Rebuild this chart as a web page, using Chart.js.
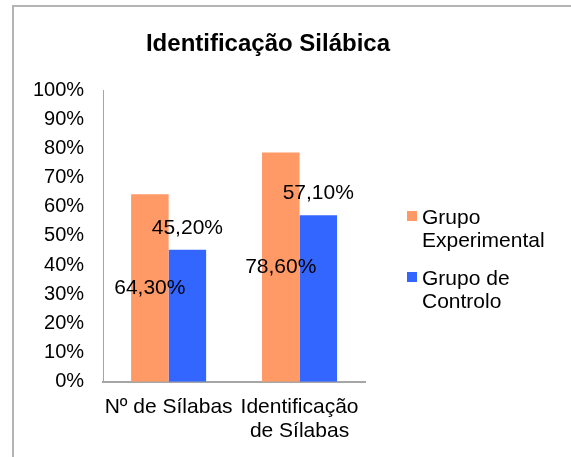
<!DOCTYPE html>
<html>
<head>
<meta charset="utf-8">
<script src="https://cdn.jsdelivr.net/npm/chart.js@4.4.1/dist/chart.umd.min.js"></script>
<style>
  body { margin: 0; background: #fff; }
  #wrap { position: relative; width: 571px; height: 457px; }
</style>
</head>
<body>
<div id="wrap"><canvas id="silabasChart"></canvas></div>
<script>
// Dados do gráfico
const categorias = [['Nº de Sílabas'], ['Identificação', 'de Sílabas']];
const grupoExperimental = [64.3, 78.6];
const grupoControlo = [45.2, 57.1];
const nomesSeries = [['Grupo', 'Experimental'], ['Grupo de', 'Controlo']];
const titulo = 'Identificação Silábica';

const laranja = '#FF9966';
const azul = '#3366FF';
const cinza = '#A6A6A6';
const fonte = '"Liberation Sans", Arial, sans-serif';

function formatoPct(v) {
    return v.toFixed(2).replace('.', ',') + '%';
}

// Plugin simples: moldura, título, rótulos de dados e legenda em várias linhas
const extras = {
    id: 'extras',
    beforeDraw(chart) {
        const ctx = chart.ctx;
        ctx.save();
        ctx.fillStyle = '#B4B4B4';
        ctx.fillRect(12, 5, 2, chart.height);
        ctx.fillRect(12, 5, chart.width, 2);
        ctx.restore();
    },
    afterDatasetsDraw(chart) {
        const ctx = chart.ctx;
        ctx.save();
        // título
        ctx.fillStyle = '#000';
        ctx.font = 'bold 24px ' + fonte;
        ctx.textAlign = 'center';
        ctx.textBaseline = 'alphabetic';
        ctx.fillText(titulo, 268, 51);

        // rótulos de dados
        ctx.font = '21px ' + fonte;
        ctx.textBaseline = 'middle';
        chart.data.datasets.forEach((ds, i) => {
            chart.getDatasetMeta(i).data.forEach((bar, j) => {
                const y = i === 0 ? (bar.y + bar.base) / 2 : bar.y - 22;
                ctx.fillText(formatoPct(ds.data[j]), bar.x, y);
            });
        });

        // legenda
        ctx.textAlign = 'left';
        ctx.textBaseline = 'alphabetic';
        chart.data.datasets.forEach((ds, i) => {
            const y0 = 224 + i * 61;
            ctx.fillStyle = ds.backgroundColor;
            ctx.fillRect(407, y0 - 13, 10, 10);
            ctx.fillStyle = '#000';
            nomesSeries[i].forEach((linha, k) => ctx.fillText(linha, 422, y0 + k * 23));
        });
        ctx.restore();
    }
};

new Chart(document.getElementById('silabasChart'), {
    type: 'bar',
    data: {
        labels: categorias,
        datasets: [
            { label: nomesSeries[0].join(' '), data: grupoExperimental, backgroundColor: laranja },
            { label: nomesSeries[1].join(' '), data: grupoControlo, backgroundColor: azul }
        ]
    },
    options: {
        responsive: true,
        maintainAspectRatio: false,
        animation: false,
        layout: { padding: { top: 90, right: 206, bottom: 1, left: 14 } },
        datasets: { bar: { categoryPercentage: 0.573, barPercentage: 1.0 } },
        plugins: {
            legend: { display: false },
            title: { display: false },
            tooltip: { enabled: false }
        },
        scales: {
            x: {
                grid: { display: false, drawTicks: false },
                border: { display: true, color: cinza, width: 2 },
                ticks: { color: '#000', padding: 13, maxRotation: 0, autoSkip: false,
                         font: { family: fonte, size: 21, lineHeight: 1.15 } }
            },
            y: {
                min: 0,
                max: 100,
                grid: { display: false, drawTicks: false },
                border: { display: true, color: cinza, width: 1 },
                ticks: { color: '#000', padding: 19, stepSize: 10,
                         font: { family: fonte, size: 20 },
                         callback: v => v + '%' }
            }
        }
    },
    plugins: [extras]
});
</script>
</body>
</html>
